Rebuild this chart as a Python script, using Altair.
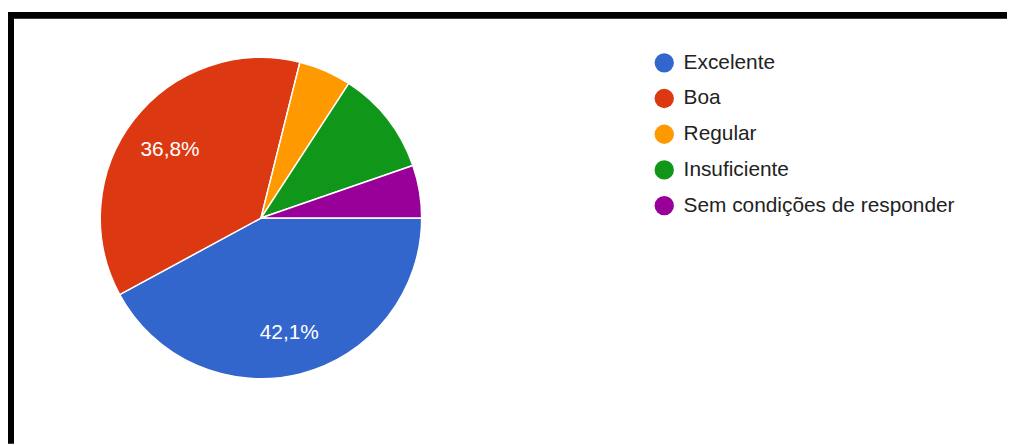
import math
import altair as alt
import pandas as pd

categories = ["Excelente", "Boa", "Regular", "Insuficiente", "Sem condições de responder"]
percentages = [42.1, 36.8, 5.3, 10.5, 5.3]
colors = ["#3366cc", "#dc3912", "#ff9900", "#109618", "#990099"]

df = pd.DataFrame({
    "categoria": categories,
    "pct": percentages,
    "ordem": list(range(len(categories))),
})
df["rotulo"] = [f"{p:.1f}".replace(".", ",") + "%" for p in percentages]

FONT = "Liberation Sans"
cx, cy, R = 255, 210, 162

theta = alt.Theta("pct:Q", stack=True,
                  scale=alt.Scale(range=[math.pi / 2, math.pi / 2 + 2 * math.pi]))
order = alt.Order("ordem:Q", sort="ascending")

base = alt.Chart(df)

pie = base.mark_arc(radius=R, stroke="white", strokeWidth=1.5).encode(
    theta=theta,
    order=order,
    x=alt.value(cx),
    y=alt.value(cy),
    color=alt.Color(
        "categoria:N",
        sort=categories,
        scale=alt.Scale(domain=categories, range=colors),
        legend=alt.Legend(
            title=None,
            orient="none",
            legendX=651,
            legendY=43,
            symbolType="circle",
            symbolSize=380,
            symbolStrokeWidth=0,
            labelFont=FONT,
            labelFontSize=21,
            labelColor="#222222",
            labelOffset=9,
            rowPadding=14,
            labelLimit=400,
            padding=0,
        ),
    ),
)

labels = base.mark_text(radius=116, dy=3, color="white", font=FONT, fontSize=21).encode(
    theta=theta,
    order=order,
    x=alt.value(cx),
    y=alt.value(cy),
    text="rotulo:N",
    opacity=alt.condition("datum.pct > 20", alt.value(1), alt.value(0)),
)

top_rule = alt.Chart(df).mark_rule(color="black", strokeWidth=6).encode(
    x=alt.value(0), x2=alt.value(1007), y=alt.value(5.5)
)
left_rule = alt.Chart(df).mark_rule(color="black", strokeWidth=6).encode(
    x=alt.value(3), y=alt.value(3), y2=alt.value(437)
)

chart = alt.layer(pie, labels, top_rule, left_rule).properties(
    width=1007,
    height=437,
    padding=0,
    autosize=alt.AutoSizeParams(type="none"),
    background="white",
).configure_view(stroke=None)

chart.save("out.html", embed_options={"renderer": "svg", "actions": False})
